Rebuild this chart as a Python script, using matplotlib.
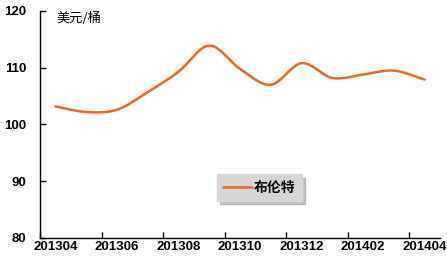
# -*- coding: utf-8 -*-
"""布伦特原油月度价格走势（美元/桶）。"""

import matplotlib
matplotlib.use("Agg")
import matplotlib.pyplot as plt
import numpy as np

months = ["201304", "201305", "201306", "201307", "201308", "201309", "201310",
          "201311", "201312", "201401", "201402", "201403", "201404"]
brent = [103.2, 102.2, 102.6, 105.7, 109.3, 113.9, 109.8,
         107.0, 110.8, 108.2, 108.8, 109.5, 107.9]
y_ticks = [80, 90, 100, 110, 120]

plt.rcParams["font.family"] = ["Liberation Sans", "Noto Sans CJK SC", "DejaVu Sans"]
cjk = ["Noto Sans CJK SC", "DejaVu Sans"]
line_color = "#f0661c"


def smooth_line(x, y, steps=20):
    """Excel 式平滑线：Catmull-Rom 曲线，只用于画线，不改数据点。"""
    pts = np.column_stack([x, y]).astype(float)
    pts = np.vstack([pts[0], pts, pts[-1]])
    out = []
    t = np.linspace(0, 1, steps, endpoint=False)[:, None]
    for i in range(1, len(pts) - 2):
        p0, p1, p2, p3 = pts[i - 1], pts[i], pts[i + 1], pts[i + 2]
        c1 = p1 + (p2 - p0) / 6
        c2 = p2 - (p3 - p1) / 6
        seg = ((1 - t) ** 3) * p1 + 3 * ((1 - t) ** 2) * t * c1 \
            + 3 * (1 - t) * t ** 2 * c2 + t ** 3 * p2
        out.append(seg)
    out.append(pts[-2][None, :])
    out = np.vstack(out)
    return out[:, 0], out[:, 1]


fig = plt.figure(figsize=(4.47, 2.58), dpi=100)
ax = fig.add_axes([40 / 447, 20 / 258, 400 / 447, 227 / 258])

x = np.arange(len(months))
sx, sy = smooth_line(x, brent)
ax.plot(sx, sy, color=line_color, lw=1.8, solid_capstyle="round", label="布伦特")

ax.set_xlim(-0.5, len(months) - 0.5)
ax.set_ylim(80, 120)
ax.set_yticks(y_ticks)
ax.set_yticklabels([str(v) for v in y_ticks], fontweight="bold", fontsize=9.5)

# 刻度线在分类边界上，标签在分类中间
ax.set_xticks(np.arange(-0.5, len(months) - 0.5, 2))
ax.set_xticklabels([])
ax.set_xticks(x[::2], minor=True)
ax.set_xticklabels(months[::2], minor=True, fontweight="bold", fontsize=9.5)
ax.tick_params(axis="x", which="major", direction="in", length=4, width=1)
ax.tick_params(axis="x", which="minor", length=0, pad=2.5)
ax.tick_params(axis="y", direction="in", length=4, width=1, pad=10)

for side in ["top", "right"]:
    ax.spines[side].set_visible(False)
for side in ["left", "bottom"]:
    ax.spines[side].set_linewidth(1)

ax.text(0.04, 0.995, "美元/桶", transform=ax.transAxes, family=cjk,
        fontsize=9.5, va="top", ha="left")

leg = ax.legend(loc="center", bbox_to_anchor=(0.548, 0.222), frameon=True,
                fancybox=False, handlelength=2.1, handletextpad=0.1,
                borderpad=0.45, borderaxespad=0,
                shadow={"ox": 2.5, "oy": -2.5, "color": "#a8a8a8", "alpha": 0.7},
                prop={"family": cjk, "weight": "bold", "size": 10})
leg.get_frame().set_facecolor("#d6d6d6")
leg.get_frame().set_edgecolor("#d6d6d6")
leg.get_frame().set_alpha(1)

fig.savefig("out.png", dpi=100)
